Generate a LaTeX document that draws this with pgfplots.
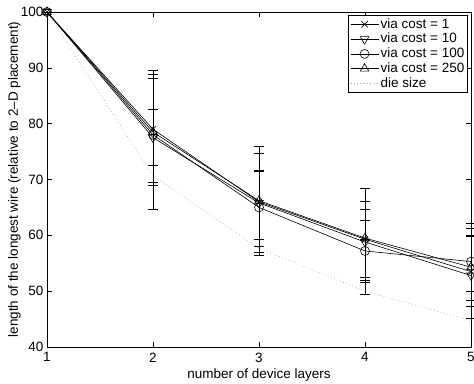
\documentclass[border=0pt]{standalone}
\usepackage{pgfplots}
\pgfplotsset{compat=1.18}
\usepackage{fontspec}
\setmainfont{Liberation Sans}
\begin{document}
\fontsize{13.5bp}{16bp}\selectfont
\begin{tikzpicture}
\begin{axis}[
  scale only axis,
  width=424bp, height=335bp,
  xmin=1, xmax=5, ymin=40, ymax=100,
  xtick={1,2,3,4,5}, ytick={40,50,60,70,80,90,100},
  tick align=inside,
  major tick length=5bp,
  axis line style={line width=0.8pt},
  every tick/.style={black, line width=0.6pt},
  /pgf/number format/assume math mode=true,
  tick label style={font=\fontsize{13.5bp}{16bp}\selectfont},
  label style={font=\fontsize{13.5bp}{16bp}\selectfont},
  xticklabel style={yshift=-1bp},
  yticklabel style={xshift=1bp},
  xlabel={number of device layers},
  ylabel={length of the longest wire (relative to 2–D placement)},
  xlabel style={yshift=0bp, inner sep=1.5bp},
  ylabel style={yshift=-9bp},
  clip=false,
  legend style={at={(rel axis cs:0.993,0.992)}, anchor=north east,
    draw=black, line width=0.8pt, fill=white, inner sep=1.5bp,
    font=\fontsize{13.5bp}{16bp}\selectfont, row sep=-0.6bp,
    nodes={inner sep=1.8bp}},
  legend cell align=left,
  legend image code/.code={\draw[mark repeat=2,mark phase=2] plot coordinates {(0bp,0bp) (14bp,0bp) (28bp,0bp)};},
  EB/.style={error bars/.cd, y dir=both, y explicit,
    error bar style={black, line width=0.7pt, solid},
    error mark=|,
    error mark options={black, line width=0.7pt, mark size=5bp, solid}},
]
\addplot[black, line width=0.6pt, mark=x, mark size=4.5bp, mark options={solid, black, line width=0.6pt}, EB]
  coordinates {
  (1,100) += (0,0) -= (0,0)
  (2,79) += (0,9.9) -= (0,10.0)
  (3,66.0) += (0,9.9) -= (0,6.7)
  (4,59.3) += (0,9.1) -= (0,7.7)
  (5,53.5) += (0,7.8) -= (0,6.3)
  };
\addlegendentry{via cost = 1}
\addplot[black, line width=0.6pt, mark=triangle, mark size=5bp, mark options={solid, black, fill=none, rotate=180, line width=0.6pt}, EB]
  coordinates {
  (1,100) += (0,0) -= (0,0)
  (2,77.5) += (0,5.1) -= (0,4.9)
  (3,65.8) += (0,5.8) -= (0,7.7)
  (4,58.8) += (0,3.8) -= (0,6.3)
  (5,52.8) += (0,7.0) -= (0,7.7)
  };
\addlegendentry{via cost = 10}
\addplot[black, line width=0.6pt, mark=o, mark size=4.5bp, mark options={solid, black, fill=none, line width=0.6pt}, EB]
  coordinates {
  (1,100) += (0,0) -= (0,0)
  (2,78.0) += (0,11.6) -= (0,13.3)
  (3,65.0) += (0,6.4) -= (0,8.5)
  (4,57.2) += (0,7.5) -= (0,7.7)
  (5,55.3) += (0,6.8) -= (0,6.9)
  };
\addlegendentry{via cost = 100}
\addplot[black, line width=0.6pt, mark=triangle, mark size=5bp, mark options={solid, black, fill=none, line width=0.6pt}, EB]
  coordinates {
  (1,100) += (0,0) -= (0,0)
  (2,78.5) += (0,9.7) -= (0,9.0)
  (3,66.2) += (0,8.4) -= (0,9.2)
  (4,59.5) += (0,6.5) -= (0,7.5)
  (5,54.3) += (0,5.7) -= (0,4.4)
  };
\addlegendentry{via cost = 250}
\addplot[gray!75, line width=0.6pt, dash pattern=on 0.7pt off 2.6pt, mark=none]
  coordinates {(1,100) (2,70.7) (3,57.7) (4,50.0) (5,44.7)};
\addlegendentry{die size}
\end{axis}
\pgfresetboundingbox
\path[use as bounding box] ([shift={(-47bp,-37bp)}]current axis.south west) rectangle ([shift={(3bp,12bp)}]current axis.north east);
\end{tikzpicture}
\end{document}
